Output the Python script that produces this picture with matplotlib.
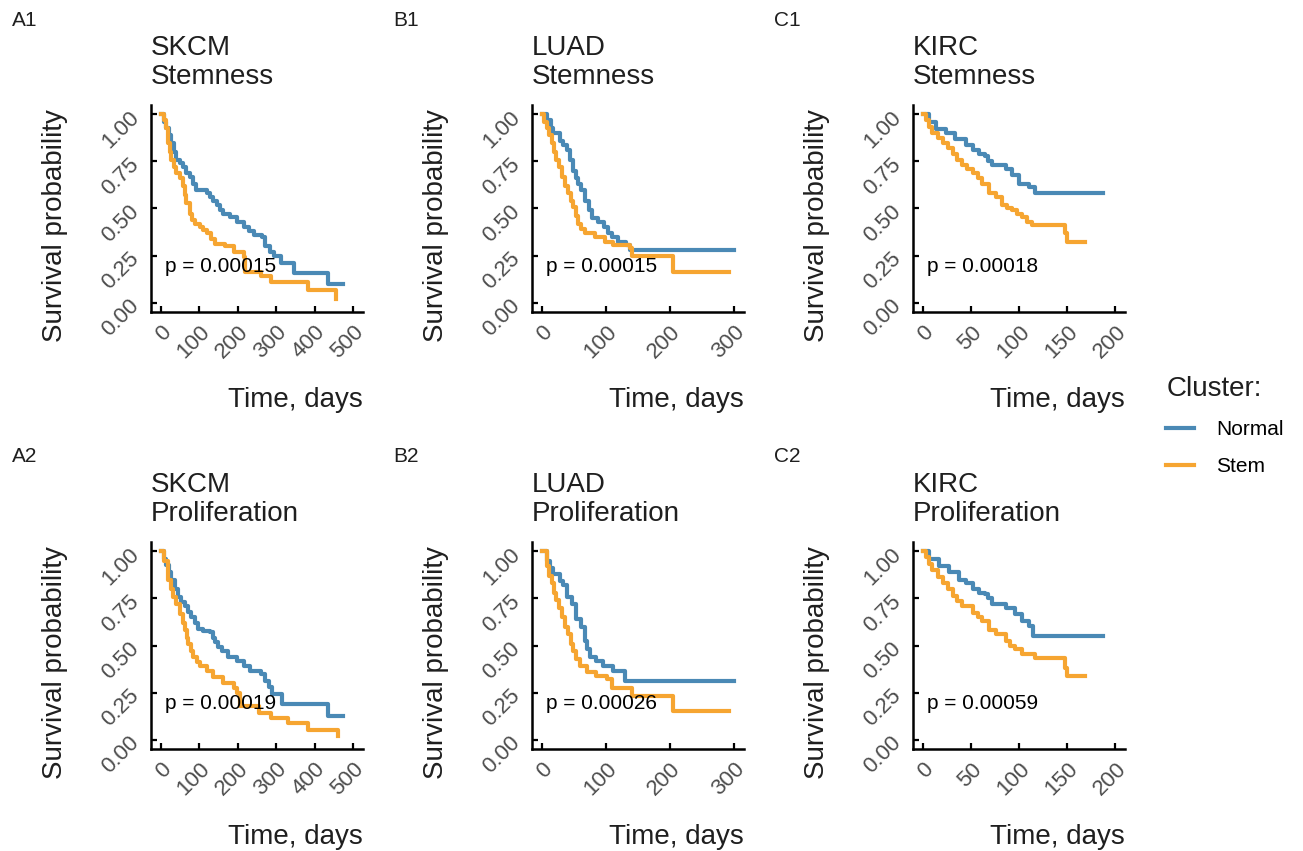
import matplotlib
matplotlib.use("Agg")
import matplotlib.pyplot as plt
from matplotlib.lines import Line2D

plt.rcParams["font.family"] = ["Liberation Sans", "DejaVu Sans"]

# === Kaplan-Meier step data (days, survival) ===
# A1 SKCM Stemness
a1_normal_t = [0, 10, 15, 22, 28, 35, 41, 50, 58, 67, 76, 85, 93, 120, 128, 135, 146, 155, 163, 181, 198, 216, 230, 242, 264, 272, 285, 294, 312, 347, 434, 473]
a1_normal_s = [1.0, 0.96, 0.93, 0.89, 0.85, 0.80, 0.76, 0.74, 0.72, 0.69, 0.67, 0.63, 0.60, 0.58, 0.56, 0.54, 0.52, 0.49, 0.47, 0.455, 0.43, 0.40, 0.38, 0.36, 0.35, 0.30, 0.27, 0.25, 0.21, 0.155, 0.10, 0.10]
a1_stem_t = [0, 8, 15, 19, 24, 28, 35, 41, 50, 58, 63, 67, 76, 82, 89, 102, 110, 120, 130, 141, 168, 190, 216, 220, 260, 286, 382, 456]
a1_stem_s = [1.0, 0.97, 0.93, 0.85, 0.80, 0.76, 0.72, 0.69, 0.66, 0.62, 0.57, 0.53, 0.47, 0.44, 0.42, 0.40, 0.385, 0.37, 0.34, 0.31, 0.30, 0.27, 0.24, 0.16, 0.14, 0.11, 0.065, 0.02]

# B1 LUAD Stemness
b1_normal_t = [0, 8, 14, 18, 28, 34, 39, 44, 49, 53, 57, 62, 67, 73, 78, 88, 97, 104, 109, 119, 132, 138, 300]
b1_normal_s = [1.0, 0.97, 0.93, 0.90, 0.86, 0.84, 0.81, 0.76, 0.70, 0.66, 0.63, 0.60, 0.54, 0.49, 0.45, 0.43, 0.40, 0.37, 0.35, 0.32, 0.305, 0.28, 0.28]
b1_stem_t = [0, 4, 8, 12, 16, 20, 23, 27, 31, 36, 41, 45, 49, 53, 57, 62, 67, 83, 98, 111, 138, 140, 204, 292]
b1_stem_s = [1.0, 0.96, 0.93, 0.89, 0.85, 0.80, 0.76, 0.72, 0.67, 0.62, 0.58, 0.54, 0.51, 0.46, 0.42, 0.39, 0.37, 0.35, 0.32, 0.305, 0.29, 0.25, 0.165, 0.165]

# C1 KIRC Stemness
c1_normal_t = [0, 7, 14, 24, 34, 45, 52, 58, 65, 68, 72, 86, 93, 100, 110, 117, 187]
c1_normal_s = [1.0, 0.96, 0.925, 0.90, 0.87, 0.84, 0.81, 0.79, 0.78, 0.75, 0.73, 0.71, 0.68, 0.63, 0.615, 0.58, 0.58]
c1_stem_t = [0, 3, 7, 10, 16, 21, 26, 31, 36, 41, 46, 52, 57, 62, 69, 76, 82, 88, 93, 98, 103, 108, 113, 148, 150, 168]
c1_stem_s = [1.0, 0.97, 0.935, 0.90, 0.875, 0.85, 0.82, 0.79, 0.76, 0.73, 0.71, 0.69, 0.66, 0.63, 0.58, 0.56, 0.52, 0.50, 0.49, 0.47, 0.455, 0.43, 0.41, 0.37, 0.32, 0.32]

# A2 SKCM Proliferation
a2_normal_t = [0, 8, 15, 22, 28, 36, 45, 54, 63, 72, 80, 89, 98, 110, 128, 135, 141, 150, 159, 176, 198, 216, 233, 260, 272, 282, 290, 316, 434, 473]
a2_normal_s = [1.0, 0.96, 0.93, 0.89, 0.85, 0.80, 0.76, 0.73, 0.71, 0.68, 0.65, 0.62, 0.59, 0.575, 0.57, 0.54, 0.52, 0.49, 0.47, 0.44, 0.42, 0.39, 0.365, 0.35, 0.31, 0.28, 0.24, 0.19, 0.125, 0.125]
a2_stem_t = [0, 10, 19, 26, 32, 41, 50, 57, 63, 68, 72, 78, 85, 94, 102, 120, 137, 163, 190, 198, 207, 255, 286, 330, 382, 460]
a2_stem_s = [1.0, 0.95, 0.85, 0.80, 0.76, 0.72, 0.67, 0.62, 0.58, 0.54, 0.51, 0.47, 0.44, 0.41, 0.39, 0.365, 0.33, 0.30, 0.275, 0.25, 0.18, 0.14, 0.115, 0.09, 0.053, 0.02]

# B2 LUAD Proliferation
b2_normal_t = [0, 8, 13, 18, 28, 34, 39, 47, 54, 62, 67, 71, 75, 85, 96, 111, 129, 300]
b2_normal_s = [1.0, 0.95, 0.91, 0.88, 0.845, 0.82, 0.76, 0.72, 0.64, 0.60, 0.525, 0.48, 0.44, 0.42, 0.39, 0.365, 0.31, 0.31]
b2_stem_t = [0, 8, 12, 16, 20, 23, 27, 31, 36, 41, 45, 49, 54, 59, 70, 85, 101, 109, 140, 204, 292]
b2_stem_s = [1.0, 0.92, 0.87, 0.83, 0.78, 0.74, 0.70, 0.65, 0.60, 0.56, 0.51, 0.47, 0.43, 0.39, 0.36, 0.34, 0.32, 0.275, 0.23, 0.15, 0.15]

# C2 KIRC Proliferation
c2_normal_t = [0, 7, 17, 27, 38, 45, 52, 58, 65, 68, 72, 86, 96, 103, 110, 115, 187]
c2_normal_s = [1.0, 0.96, 0.925, 0.89, 0.85, 0.83, 0.80, 0.78, 0.775, 0.75, 0.72, 0.70, 0.67, 0.63, 0.605, 0.55, 0.55]
c2_stem_t = [0, 3, 7, 10, 16, 21, 26, 31, 36, 41, 52, 57, 62, 69, 76, 86, 91, 96, 103, 117, 148, 150, 168]
c2_stem_s = [1.0, 0.97, 0.935, 0.90, 0.865, 0.83, 0.80, 0.765, 0.735, 0.71, 0.675, 0.65, 0.63, 0.58, 0.56, 0.525, 0.50, 0.48, 0.455, 0.435, 0.38, 0.34, 0.34]

panel_tags = ["A1", "B1", "C1", "A2", "B2", "C2"]
cancers = ["SKCM", "LUAD", "KIRC", "SKCM", "LUAD", "KIRC"]
signatures = ["Stemness", "Stemness", "Stemness", "Proliferation", "Proliferation", "Proliferation"]
p_values = ["0.00015", "0.00015", "0.00018", "0.00019", "0.00026", "0.00059"]
x_max = [500, 300, 200, 500, 300, 200]
x_step = [100, 100, 50, 100, 100, 50]
y_ticks = [0.0, 0.25, 0.50, 0.75, 1.00]
y_tick_labels = ["0.00", "0.25", "0.50", "0.75", "1.00"]

curves = [
    (a1_normal_t, a1_normal_s, a1_stem_t, a1_stem_s),
    (b1_normal_t, b1_normal_s, b1_stem_t, b1_stem_s),
    (c1_normal_t, c1_normal_s, c1_stem_t, c1_stem_s),
    (a2_normal_t, a2_normal_s, a2_stem_t, a2_stem_s),
    (b2_normal_t, b2_normal_s, b2_stem_t, b2_stem_s),
    (c2_normal_t, c2_normal_s, c2_stem_t, c2_stem_s),
]

blue = "#4A89B5"
orange = "#F6A531"
grey = "#4D4D4D"
dark = "#1F1F1F"

W, H = 1303, 851
fig = plt.figure(figsize=(W / 100, H / 100), dpi=100)

# axes boxes in pixels
col_left = [151, 532, 913]
row_top = [105, 542]
ax_w, ax_h = 212, 207


def fx(x):
    return x / W


def fy(y):
    return 1 - y / H


for i in range(6):
    r, c = divmod(i, 3)
    left, top = col_left[c], row_top[r]
    ax = fig.add_axes([fx(left), fy(top + ax_h), ax_w / W, ax_h / H])
    nt, ns, st, ss = curves[i]
    ax.step(nt, ns, where="post", color=blue, lw=3.0, label="Normal")
    ax.step(st, ss, where="post", color=orange, lw=3.0, label="Stem")

    xm = x_max[i]
    ax.set_xlim(-0.05 * xm, 1.05 * xm)
    ax.set_ylim(-0.05, 1.05)
    xt = list(range(0, xm + 1, x_step[i]))
    ax.set_xticks(xt)
    ax.set_xticklabels([str(v) for v in xt], rotation=45, ha="right", va="top",
                       rotation_mode="anchor", fontsize=16, color=grey)
    ax.set_yticks(y_ticks)
    ax.set_yticklabels(y_tick_labels, rotation=45, ha="right", va="center",
                       rotation_mode="anchor", fontsize=16, color=grey)
    ax.tick_params(axis="x", direction="in", length=4, width=1.6, pad=7)
    ax.tick_params(axis="y", direction="in", length=4, width=1.6, pad=11)
    for side in ["top", "right"]:
        ax.spines[side].set_visible(False)
    for side in ["left", "bottom"]:
        ax.spines[side].set_linewidth(1.8)

    ax.text(0.065, 0.22, "p = " + p_values[i], transform=ax.transAxes,
            fontsize=15, va="center", ha="left")

    # titles, tags and axis labels
    fig.text(fx(left), fy(top - 15), cancers[i] + "\n" + signatures[i],
             fontsize=20, color=dark, ha="left", va="bottom", linespacing=1.15)
    fig.text(fx(left - 139), fy(top - 85), panel_tags[i], fontsize=15,
             color=dark, ha="left", va="center")
    fig.text(fx(left + ax_w), fy(top + ax_h + 88), "Time, days", fontsize=20,
             color=dark, ha="right", va="center")
    fig.text(fx(left - 96), fy(top + 121), "Survival probability", fontsize=20,
             color=dark, ha="center", va="center", rotation=90)

# legend
handles = [Line2D([], [], color=blue, lw=3), Line2D([], [], color=orange, lw=3)]
leg = fig.legend(handles, ["Normal", "Stem"], title="Cluster:", loc="upper left",
                 bbox_to_anchor=(fx(1156), fy(366)), frameon=False, fontsize=15,
                 title_fontsize=20, handlelength=1.3, handletextpad=1.1,
                 labelspacing=0.85, alignment="left", borderpad=0)
leg.get_title().set_color(dark)

fig.savefig("out.png", dpi=100)
